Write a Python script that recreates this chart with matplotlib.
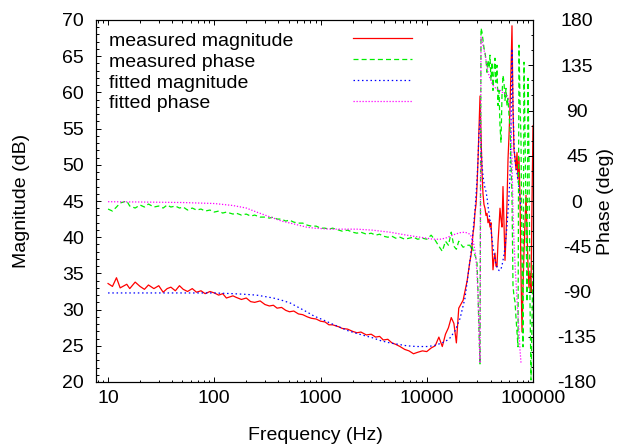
"""Bode plot of a measured frequency response against its fitted model.

Magnitude (dB) on the left axis, phase (deg) on the right axis, log frequency.
Writes out.png.
"""
import matplotlib
matplotlib.use("Agg")
import matplotlib.pyplot as plt
from matplotlib.ticker import FixedLocator, FuncFormatter, LogLocator, MultipleLocator, NullFormatter

plt.rcParams["font.family"] = ["Liberation Sans", "DejaVu Sans"]
plt.rcParams["font.size"] = 14
plt.rcParams["axes.unicode_minus"] = False

# ---- measured response (Hz, dB, deg) ----
meas_freq = [
    10, 11, 12, 13, 15, 16, 18, 20, 22, 24, 27, 30, 33, 36, 39, 43, 47, 51, 56, 62, 68, 75, 82, 91,
    100, 110, 120, 130, 150, 160, 180, 200, 220, 240, 270, 300, 330, 360, 390, 430, 470, 510, 560, 620,
    680, 750, 820, 910,
    1000, 1100, 1200, 1300, 1500, 1600, 1800, 2000, 2200, 2400, 2700, 3000, 3300, 3600, 3900, 4300,
    4700, 5100, 5600, 6200, 6800, 7500, 8200, 9100,
    10000, 11000, 12000, 13000, 14000, 15000, 16000, 17000, 18000, 19000, 20000, 22000, 24000,
    25540, 26100, 26660, 27250, 27840, 28460, 29080, 29720, 30370, 31030, 31710, 32400, 33110, 33830,
    34570, 35330, 36100, 36900, 37700, 38530, 39370, 40230, 41110, 42010, 42930, 43870, 44830, 45810,
    46810, 47860, 48900, 49970, 51070, 52180, 53340, 54500, 55690, 56910, 58160, 59430, 60730, 62060,
    63420, 64810, 66230, 67680, 69180, 70700, 72240, 73820, 75440, 77100, 78800, 80520, 82280, 84080,
    85920, 87800, 89730, 91710, 93710, 95760, 97860, 100000,
]
meas_mag = [
    33.6, 33.2, 34.4, 33.0, 33.5, 32.9, 33.8, 33.2, 32.8, 33.4, 32.9, 33.3, 32.4, 32.9, 33.1, 32.6,
    33.3, 32.8, 32.5, 32.9, 32.4, 32.6, 32.2, 32.5,
    32.3, 32.0, 32.2, 31.6, 31.9, 31.7, 31.4, 31.6, 31.1, 31.0, 31.2, 30.7, 30.5, 30.6, 30.2, 30.3,
    29.9, 29.7, 29.8, 29.4, 29.3, 29.0, 28.8, 28.7,
    28.4, 28.3, 27.9, 27.9, 27.6, 27.4, 27.3, 27.0, 26.8, 26.9, 26.5, 26.6, 26.2, 26.3, 25.8, 25.9,
    25.4, 25.2, 24.9, 24.5, 24.3, 23.9, 24.1, 24.3,
    24.2, 24.7, 25.0, 26.2, 24.9, 26.6, 27.5, 28.9, 28.1, 25.4, 30.2, 31.3, 34.0,
    36.8, 37.5, 38.8, 40.5, 41.5, 43.5, 44.5, 47.0, 50.7, 55.0, 59.5, 54.0, 49.0, 46.0,
    44.5, 44.0, 43.0, 43.3, 42.0, 42.5, 41.4, 42.0, 39.2, 35.5, 37.0, 37.8, 36.0, 35.9,
    39.2, 41.5, 44.0, 42.5, 41.4, 47.0, 42.0, 36.8, 40.0, 44.7, 50.7, 54.0, 58.0, 63.0,
    69.2, 58.0, 52.0, 51.0, 49.3, 51.7, 48.0, 51.0, 45.5, 35.0, 26.9, 33.0, 38.0, 42.0,
    45.8, 41.0, 36.0, 33.0, 35.0, 32.4, 45.0, 55.4,
]
meas_phase = [
    -8, -10, -6, -2, 0, -5, -7, -4, -6, -3, -6, -5, -7, -4, -6, -5, -7, -6, -9, -7, -9, -8, -10, -9,
    -11, -10, -12, -11, -13, -12, -14, -13, -15, -14, -16, -16, -17, -16, -18, -18, -20, -19, -21, -22,
    -22, -24, -25, -25,
    -27, -27, -28, -27, -29, -30, -29, -31, -32, -31, -33, -32, -34, -33, -35, -36, -35, -37, -36, -38,
    -37, -36, -38, -37,
    -38, -34, -39, -45, -50, -40, -44, -31, -45, -48, -40, -46, -44,
    -44, -47, -45, -49, -52, -54, -57, -62, -91, -130, -162, 172, 168, 160,
    152, 148, 140, 128, 140, 132, 145, 120, 138, 110, 128, 142, 118, 135,
    95, 110, 75, 58, 105, 125, 118, 100, 112, 95, 102, 85, 75, 40,
    5, -84, -95, -100, -116, -130, -145, 155, 100, 61, -60, -145, 138, 70,
    -20, -100, 122, 40, -100, -178, -120, -60,
]

# ---- fitted model (Hz, dB, deg) ----
fit_freq = [
    10, 20, 50, 100, 150, 200, 250, 300, 360, 430, 520, 620, 740, 870, 1050, 1250, 1500, 1800,
    2200, 2600, 3100, 3700, 4500, 5400, 6500, 8000, 10000, 11500, 13300, 15000, 16600, 18500,
    20600, 22900,
    25540, 26100, 26660, 27250, 27840, 28460, 29080, 29720, 30370, 31030, 31710, 32400, 33110, 33830,
    34570, 35330, 36100, 36900, 37700, 38530, 39370, 40230, 41110, 42010, 42930, 43870, 44830, 45810,
    46810, 47860, 48900, 49970, 51070, 52180, 53340, 54500, 55690, 56910, 58160, 59430, 60730, 62060,
    63420, 64810, 66230, 67680, 69180, 70700, 72240, 73820, 75440, 77100,
]
fit_mag = [
    32.3, 32.3, 32.3, 32.3, 32.2, 32.1, 32.0, 31.8, 31.6, 31.3, 30.9, 30.3, 29.7, 29.1, 28.6, 28.1,
    27.6, 27.1, 26.7, 26.4, 26.1, 25.7, 25.4, 25.2, 25.0, 24.9, 24.9, 25.0, 25.3, 25.6, 26.1, 27.1,
    28.8, 31.6,
    36.8, 38.0, 39.4, 40.8, 42.3, 43.8, 45.8, 48.0, 50.7, 54.5, 56.2, 53.0, 50.0, 48.5,
    47.5, 46.8, 46.3, 45.5, 44.3, 43.3, 42.4, 41.0, 39.8, 38.7, 37.8, 37.0, 36.3, 35.9,
    35.6, 35.4, 35.4, 35.6, 36.1, 36.8, 37.6, 38.6, 40.0, 41.5, 43.5, 45.8, 48.3, 55.0,
    66.0, 58.0, 53.0, 50.5, 49.7, 48.8, 47.8, 46.8, 45.5, 44.0,
]
fit_phase = [
    -0.7, -1, -1.5, -2.5, -4.5, -7, -11, -14, -17, -20, -22, -24, -26, -27, -27.5, -28, -28, -28,
    -28, -28.5, -29, -30, -31, -32.5, -34, -35.5, -37, -38, -38, -37, -35, -33, -31.5, -31,
    -33, -35, -37, -40, -44, -50, -58, -72, -95, -130, -161, 163, 160, 155,
    150, 146, 140, 133, 128, 125, 122, 120, 117, 115, 114, 113, 112, 112,
    111, 110, 110, 109, 108, 108, 107, 107, 106, 105, 103, 100, 93, 80,
    40, -10, -40, -62, -80, -98, -115, -130, -148, -161,
]

labels = ["measured magnitude", "measured phase", "fitted magnitude", "fitted phase"]
styles = [
    dict(color="#ff0000", lw=0.9, ls="-"),
    dict(color="#00ee00", lw=0.9, dashes=(4, 2.5)),
    dict(color="#0000ff", lw=0.9, dashes=(1.2, 2.2)),
    dict(color="#ff00ff", lw=0.9, dashes=(1, 1.4)),
]

W, H = 618, 445
fig = plt.figure(figsize=(W / 100, H / 100), dpi=100)
L, R, T, B = 96, 533, 20, 382
ax = fig.add_axes([L / W, 1 - B / H, (R - L) / W, (B - T) / H])
ax2 = ax.twinx()

ax.plot(meas_freq, meas_mag, **styles[0])
ax2.plot(meas_freq, meas_phase, **styles[1])
ax.plot(fit_freq, fit_mag, **styles[2])
ax2.plot(fit_freq, fit_phase, **styles[3])

ax.set_xscale("log")
ax.set_xlim(7.7, 100000)
ax.set_ylim(20, 70)
ax2.set_ylim(-180, 180)

ax.xaxis.set_major_locator(FixedLocator([10, 100, 1000, 10000, 100000]))
ax.xaxis.set_major_formatter(FuncFormatter(lambda v, p: f"{v:g}"))
ax.xaxis.set_minor_locator(LogLocator(base=10, subs=range(2, 10), numticks=20))
ax.xaxis.set_minor_formatter(NullFormatter())
ax.yaxis.set_major_locator(MultipleLocator(5))
ax.yaxis.set_minor_locator(MultipleLocator(1))
ax2.yaxis.set_major_locator(MultipleLocator(45))
ax2.yaxis.set_minor_locator(MultipleLocator(15))

ax.tick_params(axis="x", which="both", direction="in", top=True, bottom=True, pad=6)
ax.tick_params(axis="y", which="both", direction="in", left=True, right=False, pad=8.6)
ax2.tick_params(axis="y", which="both", direction="in", left=False, right=True, pad=31.7)
for a in (ax, ax2):
    a.tick_params(which="major", length=3.6, width=0.7)
    a.tick_params(which="minor", length=1.8, width=0.7)
    for s in a.spines.values():
        s.set_linewidth(0.8)
for t in ax2.get_yticklabels():
    t.set_horizontalalignment("center")

# key: left-justified text, line sample to the right
key_base = [45.7, 66.6, 87.5, 108.4]
for lab, st, yb in zip(labels, styles, key_base):
    ya = (B - yb) / (B - T)
    ys = (B - (yb - 7.4)) / (B - T)
    ax2.text((109 - L) / (R - L), ya, lab, transform=ax2.transAxes, ha="left", va="baseline")
    ax2.plot([(353 - L) / (R - L), (412 - L) / (R - L)], [ys, ys], transform=ax2.transAxes, **st)

fig.text(22 / W, 1 - 201 / H, "Magnitude (dB)", rotation=90, ha="center", va="center")
fig.text(606 / W, 1 - 201 / H, "Phase (deg)", rotation=90, ha="center", va="center")
fig.text(315 / W, 1 - 435 / H, "Frequency (Hz)", ha="center", va="center")

fig.savefig("out.png", dpi=100)
